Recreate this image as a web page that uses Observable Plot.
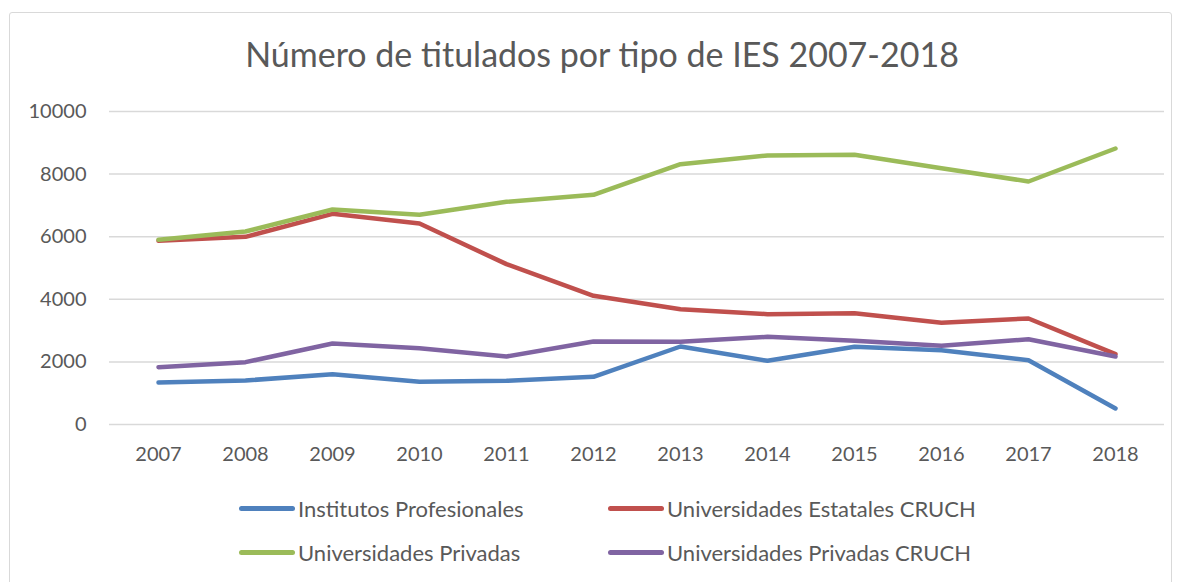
<!DOCTYPE html>
<html>
<head>
<meta charset="utf-8">
<script src="https://cdn.jsdelivr.net/npm/d3@7"></script>
<script src="https://cdn.jsdelivr.net/npm/@observablehq/plot@0.6"></script>
<style>
  html, body { margin: 0; padding: 0; background: #fff; }
  #root { position: relative; width: 1177px; height: 582px; overflow: hidden; font-family: Lato, "Open Sans", sans-serif; color: #595959; }
  #frame { position: absolute; left: 9px; top: 12px; width: 1163px; height: 600px; border: 1px solid #d9d9d9; border-radius: 3px; box-sizing: border-box; }
  #title { position: absolute; left: 602px; top: 34px; transform: translateX(-50%); font-size: 34px; white-space: nowrap; line-height: 40px; }
  #chart { position: absolute; left: 0; top: 90px; }
  .leg { position: absolute; display: flex; align-items: center; font-size: 22px; white-space: nowrap; }
  .sw { width: 56px; height: 5px; border-radius: 3px; margin-right: 3px; }
</style>
</head>
<body>
<div id="root">
  <div id="frame"></div>
  <div id="title">Número de titulados por tipo de IES 2007-2018</div>
  <div id="chart"></div>
  <div id="legend"></div>
</div>
<script>
const years = ["2007","2008","2009","2010","2011","2012","2013","2014","2015","2016","2017","2018"];
const seriesNames = ["Institutos Profesionales", "Universidades Estatales CRUCH", "Universidades Privadas", "Universidades Privadas CRUCH"];
const seriesColors = ["#4f81bd", "#c0504d", "#9bbb59", "#8064a2"];
const institutosProfesionales = [1342, 1406, 1608, 1363, 1395, 1523, 2492, 2034, 2481, 2375, 2055, 511];
const universidadesEstatalesCruch = [5868, 5996, 6731, 6422, 5123, 4111, 3685, 3525, 3557, 3248, 3387, 2247];
const universidadesPrivadas = [5900, 6166, 6869, 6699, 7114, 7338, 8318, 8595, 8616, 8190, 7764, 8818];
const universidadesPrivadasCruch = [1832, 1992, 2588, 2439, 2173, 2652, 2641, 2801, 2673, 2513, 2726, 2173];
const yTicks = [0, 2000, 4000, 6000, 8000, 10000];

const allSeries = [institutosProfesionales, universidadesEstatalesCruch, universidadesPrivadas, universidadesPrivadasCruch];
const rows = [];
allSeries.forEach((vals, i) => vals.forEach((v, j) => rows.push({serie: seriesNames[i], year: years[j], value: v})));

const plot = Plot.plot({
  width: 1177,
  height: 390,
  marginLeft: 109,
  marginRight: 13,
  marginTop: 21,
  marginBottom: 56,
  style: {fontFamily: "Lato, 'Open Sans', sans-serif", fontSize: "20px", color: "#595959", background: "transparent"},
  x: {type: "point", domain: years, padding: 0.5, label: null},
  y: {domain: [0, 10000], label: null},
  color: {domain: seriesNames, range: seriesColors},
  marks: [
    Plot.ruleY(yTicks, {stroke: "#d9d9d9", strokeWidth: 1.5}),
    Plot.axisY({ticks: yTicks, tickFormat: d3.format("d"), tickSize: 0, tickPadding: 23, label: null, fontSize: 20}),
    Plot.axisX({tickSize: 0, tickPadding: 22, label: null, fontSize: 20}),
    Plot.line(rows, {x: "year", y: "value", z: "serie", stroke: "serie", strokeWidth: 4.5, strokeLinecap: "round", strokeLinejoin: "round"})
  ]
});
document.getElementById("chart").appendChild(plot);

const legendPos = [[239, 508], [608, 508], [239, 552], [608, 552]];
const legend = document.getElementById("legend");
seriesNames.forEach((name, i) => {
  const d = document.createElement("div");
  d.className = "leg";
  d.style.left = legendPos[i][0] + "px";
  d.style.top = (legendPos[i][1] - 13) + "px";
  d.style.height = "26px";
  const sw = document.createElement("div");
  sw.className = "sw";
  sw.style.background = seriesColors[i];
  const t = document.createElement("span");
  t.textContent = name;
  d.appendChild(sw); d.appendChild(t);
  legend.appendChild(d);
});
</script>
</body>
</html>
